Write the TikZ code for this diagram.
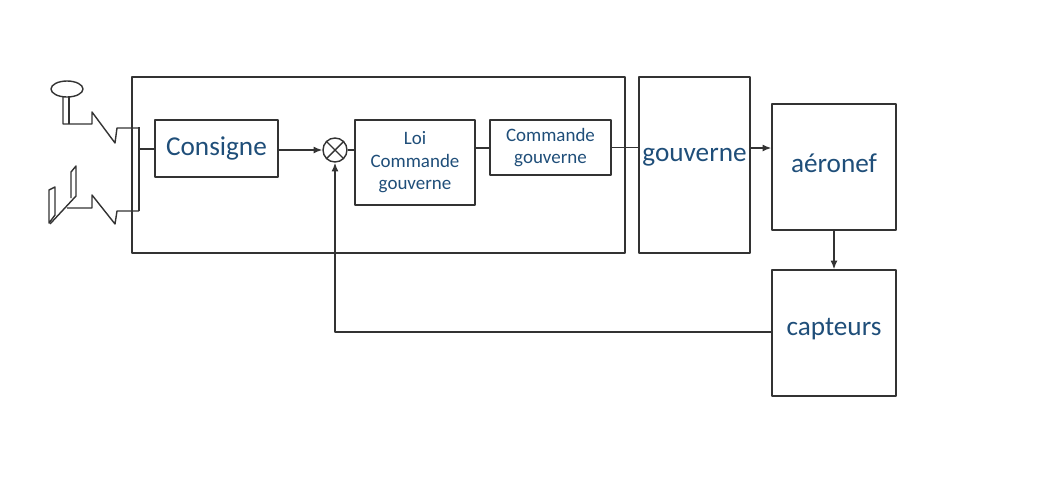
\documentclass[tikz,border=0pt]{standalone}
\usepackage{fontspec}
\setmainfont{Carlito}
\usetikzlibrary{calc,arrows.meta}
\definecolor{txtblue}{HTML}{1F4E79}
\tikzset{
  blk/.style={draw=black!80,thick,inner sep=0pt},
  lbl/.style={text=txtblue,align=center,font=\fontsize{15.5}{17}\selectfont},
  sml/.style={text=txtblue,align=center,font=\fontsize{10.8}{12.8}\selectfont},
  wire/.style={draw=black!80,thick},
  arr/.style={wire,-{Latex[length=5pt,width=4pt]}}
}
\begin{document}
\begin{tikzpicture}[x=0.02cm,y=-0.02cm,line join=round]
    \useasboundingbox (0,0) rectangle (1059,491);
    % outer frame
    \draw[blk] (132,77) rectangle (625,253);
    % blocks
    \node[blk,minimum width=123*0.02cm,minimum height=57*0.02cm] (cons) at (216.5,148.5) {};
    \node[lbl] at (cons) {Consigne};
    \node[draw=black!80,thick,circle,minimum size=24*0.02cm,inner sep=0pt] (sum) at (335,150) {};
    \draw[wire] (sum.north west)--(sum.south east) (sum.north east)--(sum.south west);
    \node[blk,minimum width=120*0.02cm,minimum height=85*0.02cm] (loi) at (415,162.5) {};
    \node[sml] at (loi) {Loi\\Commande\\gouverne};
    \node[blk,minimum width=121*0.02cm,minimum height=55*0.02cm] (cmd) at (550.5,147.5) {};
    \node[sml] at (cmd) {Commande\\gouverne};
    \node[blk,minimum width=111*0.02cm,minimum height=176*0.02cm] (gouv) at (694.5,165) {};
    \node[lbl] at ($(gouv)+(0,-8)$) {gouverne};
    \node[blk,minimum width=124*0.02cm,minimum height=126*0.02cm] (aero) at (834,167) {};
    \node[lbl] at ($(aero)+(0,-4)$) {aéronef};
    \node[blk,minimum width=124*0.02cm,minimum height=126*0.02cm] (capt) at (834,333) {};
    \node[lbl] at ($(capt)+(0,-4)$) {capteurs};
    % connections
    \draw[arr] (cons.east|-sum) -- (sum.west);
    \draw[wire] (sum.east) -- (loi.west|-sum);
    \draw[wire] (475,148) -- (cmd.west|-0,148);
    \draw[wire] (cmd.east) -- (gouv.west|-cmd);
    \draw[arr] (gouv.east|-0,148) -- (aero.west|-0,148);
    \draw[arr] (aero.south) -- (capt.north);
    \draw[arr] (capt.west|-0,332) -| (sum.south);
    % stick and pedals
    \draw[wire] (139,127) -- (139,211);
    \draw[wire] (139,149) -- (cons.west|-0,149);
    \draw[wire] (67,89) ellipse (16 and 8);
    \draw[wire] (63,97) -- (63,124) -- (92,124) -- (92,112) -- (115,143) -- (117,128) -- (139,128);
    \draw[wire] (69,97) -- (69,124);
    \draw[wire] (67,208) -- (92,208) -- (92,195) -- (115,224) -- (117,211) -- (139,211);
    \draw[wire] (49,223) -- (49,190) -- (55,187) -- (55,215) -- cycle;
    \draw[wire] (71,198) -- (71,172) -- (76,166) -- (76,196);
    \draw[wire] (50,224) -- (76,196);
\end{tikzpicture}
\end{document}
